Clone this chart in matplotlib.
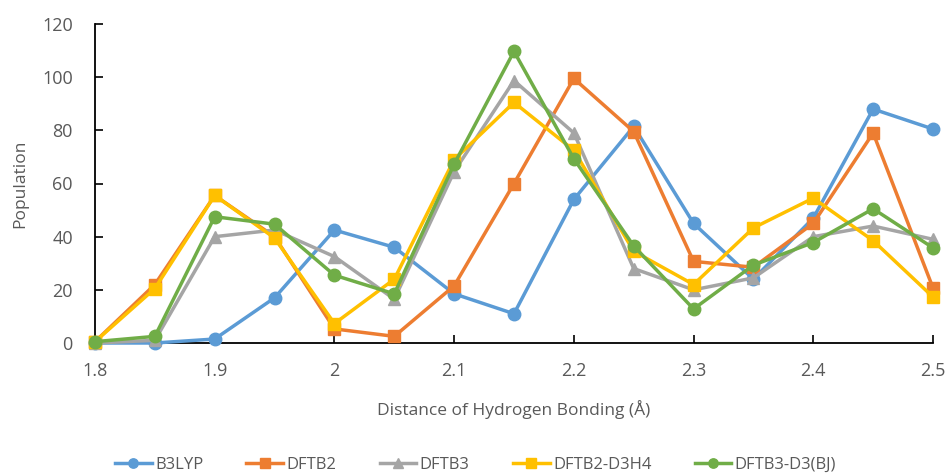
import matplotlib
matplotlib.use("Agg")
import matplotlib.pyplot as plt

x = [1.8, 1.85, 1.9, 1.95, 2.0, 2.05, 2.1, 2.15, 2.2, 2.25, 2.3, 2.35, 2.4, 2.45, 2.5]
b3lyp = [0, 0, 1.5, 17, 42.5, 36, 18.5, 11, 54, 81.5, 45, 24, 47, 88, 80.5]
dftb2 = [0.5, 22, 55.5, 40, 5.3, 2.5, 21.5, 60, 99.5, 79.5, 30.7, 28.5, 45, 79, 20.7]
dftb3 = [0, 1, 40, 42.5, 32.5, 16.5, 64.5, 98.7, 79, 28, 20, 24.5, 40, 44, 39]
dftb2_d3h4 = [0.5, 20.5, 55.5, 39.5, 7.3, 24, 69, 90.5, 72.5, 34.5, 22, 43.3, 54.5, 38.5, 17.3]
dftb3_d3bj = [0.5, 2.5, 47.5, 44.7, 25.5, 18.5, 67.3, 109.7, 69.3, 36.5, 12.8, 29.3, 37.8, 50.5, 35.8]

series = [
    ("B3LYP", b3lyp, "#5B9BD5", "o"),
    ("DFTB2", dftb2, "#ED7D31", "s"),
    ("DFTB3", dftb3, "#A5A5A5", "^"),
    ("DFTB2-D3H4", dftb2_d3h4, "#FFC000", "s"),
    ("DFTB3-D3(BJ)", dftb3_d3bj, "#70AD47", "o"),
]

xticks = [1.8, 1.9, 2.0, 2.1, 2.2, 2.3, 2.4, 2.5]
xticklabels = ["1.8", "1.9", "2", "2.1", "2.2", "2.3", "2.4", "2.5"]
yticks = [0, 20, 40, 60, 80, 100, 120]

plt.rcParams['font.family'] = ['Open Sans', 'DejaVu Sans']

fig = plt.figure(figsize=(9.51, 4.75), dpi=100)
ax = fig.add_axes([95/951, 1 - 343/475, (933-95)/951, (343-24)/475])

for name, vals, col, mk in series:
    ax.plot(x, vals, color=col, marker=mk, markersize=9, linewidth=2.5, label=name,
            clip_on=False, zorder=3)

ax.set_xlim(1.8, 2.5)
ax.set_ylim(0, 120)
ax.set_xticks(xticks)
ax.set_xticklabels(xticklabels)
ax.set_yticks(yticks)
for s in ["top", "right"]:
    ax.spines[s].set_visible(False)
for s in ["left", "bottom"]:
    ax.spines[s].set_color("#000000")
    ax.spines[s].set_linewidth(1.3)
ax.tick_params(axis="both", direction="in", length=6, width=1.2, colors="#000000",
               labelcolor="#595959", labelsize=13)
ax.tick_params(axis="x", pad=14)
ax.tick_params(axis="y", pad=16)
ax.set_xlabel("Distance of Hydrogen Bonding (Å)", fontsize=12.5, color="#595959", labelpad=14)
ax.set_ylabel("Population", fontsize=12.5, color="#595959", labelpad=10)

fig.legend(loc="lower center", bbox_to_anchor=(0.50, -0.028), ncol=5, frameon=False,
           fontsize=12, labelcolor="#595959", handlelength=2.2, handletextpad=0.2,
           columnspacing=2.6, markerscale=0.75)

fig.savefig("out.png", dpi=100)
